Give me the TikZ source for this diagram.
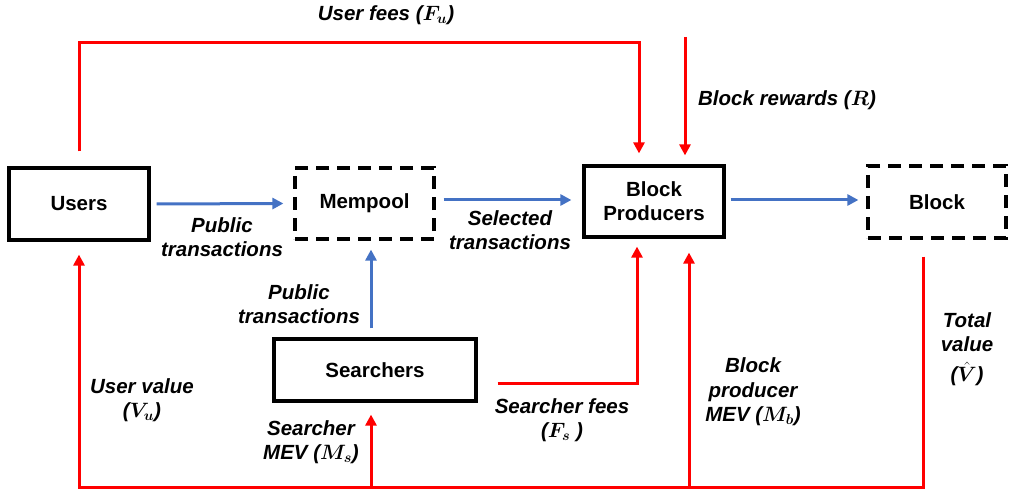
\documentclass[tikz,border=0pt]{standalone}
\usepackage{fontspec}
\usepackage{bm}
\setmainfont{Liberation Sans}
\usetikzlibrary{arrows.meta}
\definecolor{fblue}{RGB}{68,114,196}
\definecolor{fred}{RGB}{255,0,0}
\begin{document}
\begin{tikzpicture}[x=1pt,y=-1pt,
  box/.style={draw=black,line width=3.2pt,inner sep=0pt,align=center,font=\fontsize{20.5}{24}\selectfont\bfseries},
  dbox/.style={box,dash pattern=on 13pt off 8pt},
  lbl/.style={align=center,inner sep=0pt,font=\fontsize{20.5}{24.5}\selectfont\bfseries\itshape},
  redarrow/.style={draw=fred,line width=3pt,-{Triangle[length=11pt,width=11pt]}},
  bluearrow/.style={draw=fblue,line width=3pt,-{Triangle[length=11pt,width=11pt]}}]
\useasboundingbox (0,0) rectangle (1010,492);
% boxes
\node[box,minimum width=140pt,minimum height=72pt] (users) at (79,204) {Users};
\node[dbox,minimum width=139pt,minimum height=71pt] (mempool) at (364.5,203.5) {Mempool};
\node[box,minimum width=140pt,minimum height=71pt] (bp) at (654,201.5) {Block\\Producers};
\node[dbox,minimum width=138pt,minimum height=72pt] (block) at (937,202) {Block};
\node[box,minimum width=202pt,minimum height=62pt] (searchers) at (375,370) {Searchers};
% coordinates
\coordinate (uf1) at (79,43);
\coordinate (uf2) at (639,43);
\coordinate (br) at (685,37);
\coordinate (b1) at (79,487);
\coordinate (b2) at (923,487);
\coordinate (sm) at (371,487);
\coordinate (bm) at (689,487);
% blue arrows
\draw[bluearrow] ([xshift=6pt]users.east) -- ([xshift=-10pt]mempool.west);
\draw[bluearrow] ([xshift=8pt,yshift=3.5pt]mempool.east) -- ([xshift=-11pt,yshift=1.5pt]bp.west);
\draw[bluearrow] ([xshift=5pt,yshift=1.5pt]bp.east) -- ([xshift=-8pt,yshift=2pt]block.west);
\draw[bluearrow] ([xshift=-4pt,yshift=9pt]searchers.north) -- ([xshift=6.5pt,yshift=-9pt]mempool.south);
% red arrows
\draw[redarrow] ([yshift=15pt]users.north) -- (uf1) -- (uf2) -- ([xshift=-15pt,yshift=11pt]bp.north);
\draw[redarrow] (br) -- ([xshift=31pt,yshift=9pt]bp.north);
\draw[redarrow] ([xshift=-14pt,yshift=-17pt]block.south) -- (b2) -- (b1) -- ([yshift=-13pt]users.south);
\draw[redarrow] (sm) -- ([xshift=-4pt,yshift=-12pt]searchers.south);
\draw[redarrow] (bm) -- ([xshift=35pt,yshift=-14pt]bp.south);
\draw[redarrow] ([xshift=20pt,yshift=-13pt]searchers.east) -| ([xshift=-17pt,yshift=-8pt]bp.south);
% labels
\node[lbl] (lf) at (386,15) {User fees ($\bm{F_u}$)};
\node[lbl] (lp1) at (222,237) {Public\\transactions};
\node[lbl] (ls) at (510,230) {Selected\\transactions};
\node[lbl] (lbr) at (787,100) {Block rewards ($\bm{R}$)};
\node[lbl] (lp2) at (299,304) {Public\\transactions};
\node[lbl] (luv) at (142,400) {User value\\($\bm{V_u}$)};
\node[lbl] (lsm) at (311,442) {Searcher\\MEV ($\bm{M_s}$)};
\node[lbl] (lsf) at (562,420) {Searcher fees\\($\bm{F_s}$\ )};
\node[lbl] (lbm) at (753,392) {Block\\producer\\MEV ($\bm{M_b}$)};
\node[lbl] (ltv) at (967,349) {Total\\value\\[5pt]($\bm{\hat{V}}$)};
\end{tikzpicture}
\end{document}
